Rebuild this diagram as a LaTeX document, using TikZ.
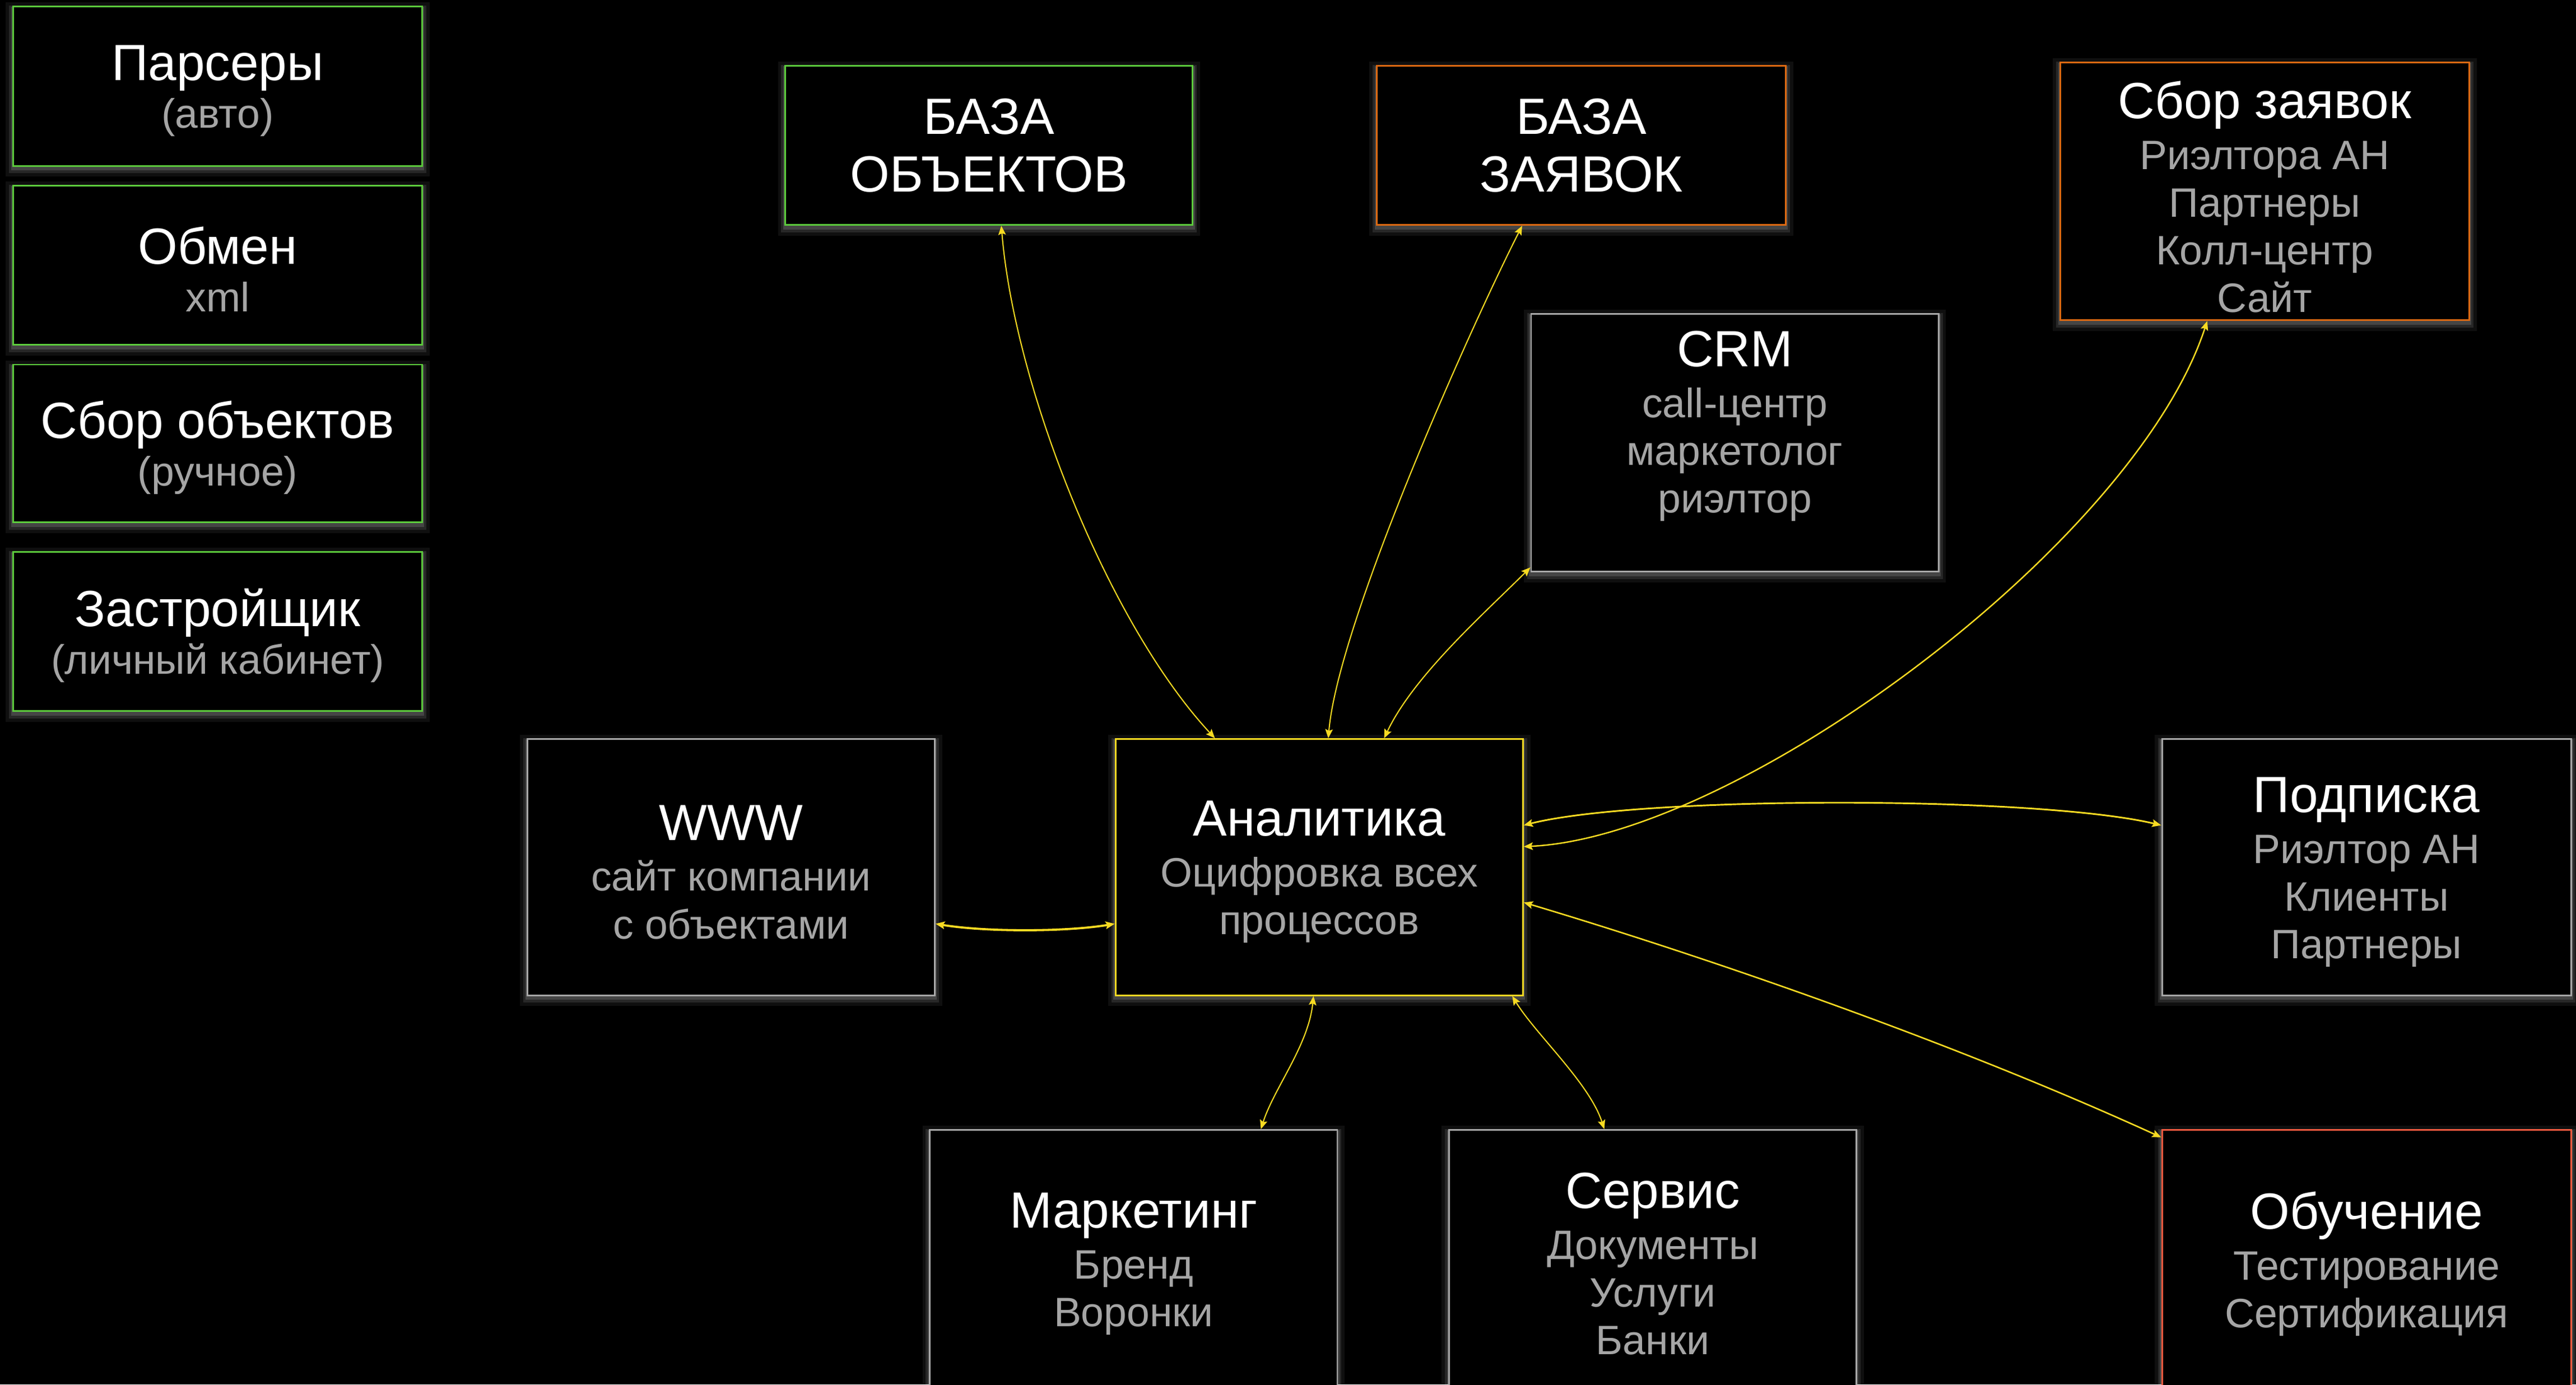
\documentclass[tikz,border=0pt]{standalone}
\usepackage{fontspec}
\setmainfont{Liberation Sans}
\usetikzlibrary{arrows.meta}
\definecolor{cgreen}{HTML}{5CCB3C}
\definecolor{corange}{HTML}{DE6A12}
\definecolor{cred}{HTML}{F05A40}
\definecolor{cgray}{HTML}{A8A8A8}
\definecolor{cyellow}{HTML}{F7DA22}
\definecolor{csub}{HTML}{A5A5A5}
\newcommand\titl[1]{{\fontsize{31}{33}\selectfont #1}}
\newcommand\subl[1]{\textcolor{csub}{#1}}
\tikzset{
  box/.style={draw=#1, line width=1pt, fill=black, inner sep=0pt,
    minimum width=249pt,
    preaction={draw=white, draw opacity=0.06, line width=9pt, transform canvas={yshift=-2pt}},
    preaction={draw=white, draw opacity=0.10, line width=5pt, transform canvas={yshift=-2pt}},
    preaction={draw=white, draw opacity=0.14, line width=2.5pt, transform canvas={yshift=-1.5pt}}},
  txt/.style={align=center, text=white, inner sep=0pt,
    font=\fontsize{25}{29}\selectfont},
  link/.style={draw=cyellow, line width=#1,
    {Stealth[length=5.5pt,width=4.6pt,inset=1pt]}-{Stealth[length=5.5pt,width=4.6pt,inset=1pt]}},
  link/.default=0.8pt
}
\begin{document}
\begin{tikzpicture}[x=1pt,y=-1pt]
\fill[black] (0,0) rectangle (1568,843);
\useasboundingbox (0,0) rectangle (1568,843);
\clip (0,0) rectangle (1568,843);

% left column
\node[box=cgreen, minimum height=97pt] (pars) at (132.5,52.5) {};
\node[txt] at (132.5,55.5) {\titl{Парсеры}\\\subl{(авто)}};
\node[box=cgreen, minimum height=97pt] (obmen) at (132.5,161.5) {};
\node[txt] at (132.5,164) {\titl{Обмен}\\\subl{xml}};
\node[box=cgreen, minimum height=96pt] (sborobj) at (132.5,270) {};
\node[txt] at (132.5,272.5) {\titl{Сбор объектов}\\\subl{(ручное)}};
\node[box=cgreen, minimum height=97pt] (zastr) at (132.5,384.5) {};
\node[txt] at (132.5,387) {\titl{Застройщик}\\\subl{(личный кабинет)}};

% top row
\node[box=cgreen, minimum width=248pt, minimum height=97pt] (bazaobj) at (602,88.5) {};
\node[txt] at (602,88.5) {\titl{БАЗА}\\[6pt]\titl{ОБЪЕКТОВ}};
\node[box=corange, minimum height=97pt] (bazazay) at (962.5,88.5) {};
\node[txt] at (962.5,88.5) {\titl{БАЗА}\\[6pt]\titl{ЗАЯВОК}};
\node[box=corange, minimum height=157pt] (sborzay) at (1378.5,116.5) {};
\node[txt] at (1378.5,120) {\titl{Сбор заявок}\\[2pt]\subl{Риэлтора АН}\\\subl{Партнеры}\\\subl{Колл-центр}\\\subl{Сайт}};
\node[box=cgray, minimum width=248pt, minimum height=157pt] (crm) at (1056,269.5) {};
\node[txt] at (1056,259.5) {\titl{CRM}\\[2pt]\subl{call-центр}\\\subl{маркетолог}\\\subl{риэлтор}};

% middle row
\node[box=cgray, minimum width=248pt, minimum height=156pt] (www) at (445,528) {};
\node[txt] at (445,531) {\titl{WWW}\\[2pt]\subl{сайт компании}\\\subl{с объектами}};
\node[box=cyellow, minimum width=248pt, minimum height=156pt] (anal) at (803,528) {};
\node[txt] at (803,531) {\titl{Аналитика}\\[2pt]\subl{Оцифровка всех}\\\subl{процессов}};
\node[box=cgray, minimum height=156pt] (podp) at (1440.5,528) {};
\node[txt] at (1440.5,531) {\titl{Подписка}\\[2pt]\subl{Риэлтор АН}\\\subl{Клиенты}\\\subl{Партнеры}};

% bottom row
\node[box=cgray, minimum width=248pt, minimum height=157pt] (mark) at (690,766.5) {};
\node[txt] at (690,769.5) {\titl{Маркетинг}\\[2pt]\subl{Бренд}\\\subl{Воронки}};
\node[box=cgray, minimum width=248pt, minimum height=157pt] (serv) at (1006,766.5) {};
\node[txt] at (1006,769.5) {\titl{Сервис}\\[2pt]\subl{Документы}\\\subl{Услуги}\\\subl{Банки}};
\node[box=cred, minimum height=157pt] (obuch) at (1440.5,766.5) {};
\node[txt] at (1440.5,769.5) {\titl{Обучение}\\[2pt]\subl{Тестирование}\\\subl{Сертификация}};

% connectors
\draw[link=0.7pt] ([xshift=132pt]bazaobj.south west) .. controls +(8,98) and +(-65,-70) .. ([xshift=61pt]anal.north west);
\draw[link=0.7pt] ([xshift=89pt]bazazay.south west) .. controls +(-32,63) and +(6,-70) .. ([xshift=130pt]anal.north west);
\draw[link=0.7pt] ([yshift=3pt]crm.south west) .. controls +(-28,28) and +(18,-38) .. ([xshift=164pt]anal.north west);
\draw[link=0.85pt] ([xshift=90pt]sborzay.south west) .. controls +(-44,135) and +(131,-6) .. ([yshift=-66pt]anal.north east);
\draw[link=1pt] ([yshift=-53pt]anal.north east) .. controls +(71,-18) and +(-76,-18) .. ([yshift=-53pt]podp.north west);
\draw[link=0.9pt] ([yshift=-100pt]anal.north east) .. controls +(130,39) and +(-116,-53) .. ([yshift=-5pt]obuch.north west);
\draw[link=1.3pt] ([yshift=-113pt]www.north east) .. controls +(30,5) and +(-30,5) .. ([yshift=-113pt]anal.north west);
\draw[link=0.7pt] ([xshift=121pt]anal.south west) .. controls +(-3,30) and +(8,-25) .. ([xshift=202pt]mark.north west);
\draw[link=0.7pt] ([xshift=242pt]anal.south west) .. controls +(14,23) and +(-9,-28) .. ([xshift=95pt]serv.north west);
\end{tikzpicture}
\end{document}
